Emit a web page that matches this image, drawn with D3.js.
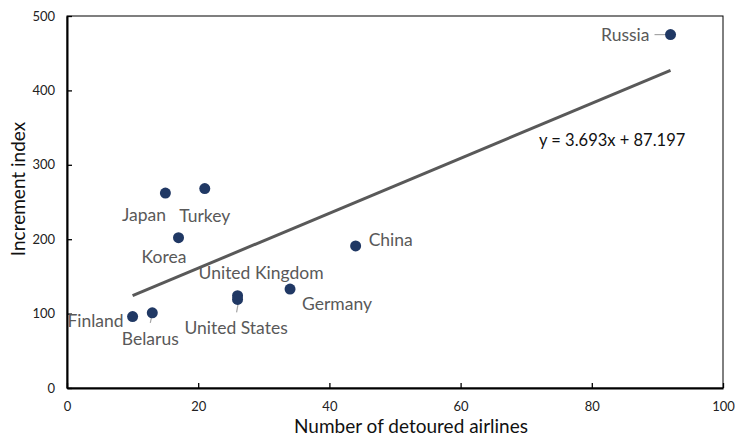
<!DOCTYPE html>
<html><head><meta charset="utf-8">
<script src="https://cdn.jsdelivr.net/npm/d3@7"></script>
<style>body{margin:0;background:#fff}</style>
</head><body><svg id="c" width="735" height="437"></svg>
<script>
const countries = ["Finland","Belarus","Japan","Turkey","Korea","United Kingdom","United States","Germany","China","Russia"];
const detoured = [10,13,15,21,17,26,26,34,44,92];
const increment = [96,101,262,268,202,124,119,133,191,475];
const xTicks = [0,20,40,60,80,100];
const yTicks = [0,100,200,300,400,500];
const slope = 3.693, intercept = 87.197;
const equation = "y = 3.693x + 87.197";

const FONT = "Lato, 'Open Sans', sans-serif";
const svg = d3.select("#c");
const L=67,R=723,T=16,B=388;
const x = d3.scaleLinear().domain([0,100]).range([L,R]);
const y = d3.scaleLinear().domain([0,500]).range([B,T]);

// frame
svg.append("rect").attr("x",L).attr("y",T).attr("width",R-L).attr("height",B-T)
  .attr("fill","none").attr("stroke","#000").attr("stroke-width",1);

const xa = svg.append("g").attr("transform",`translate(0,${B})`)
  .call(d3.axisBottom(x).tickValues(xTicks).tickSizeInner(-5).tickSizeOuter(0).tickPadding(14));
const ya = svg.append("g").attr("transform",`translate(${L},0)`)
  .call(d3.axisLeft(y).tickValues(yTicks).tickSizeInner(-5).tickSizeOuter(0).tickPadding(12));
[xa,ya].forEach(a=>{
  a.select(".domain").attr("stroke","#000").attr("stroke-width",2);
  a.selectAll(".tick line").attr("stroke","#000").attr("stroke-width",1.3);
  a.selectAll("text").attr("font-size",13).attr("fill","#222").attr("font-family",FONT);
});

svg.append("text").attr("x",411).attr("y",433).attr("text-anchor","middle")
  .attr("font-size",19).attr("fill","#111").attr("font-family",FONT).text("Number of detoured airlines");
svg.append("text").attr("transform","translate(25,189) rotate(-90)").attr("text-anchor","middle")
  .attr("font-size",19).attr("fill","#111").attr("font-family",FONT).text("Increment index");

// trendline
const xmin=d3.min(detoured), xmax=d3.max(detoured);
svg.append("line").attr("x1",x(xmin)).attr("y1",y(slope*xmin+intercept))
  .attr("x2",x(xmax)).attr("y2",y(slope*xmax+intercept))
  .attr("stroke","#595959").attr("stroke-width",3);

// label offsets (dx,dy in px relative to point, anchor)
const labelPos = {
  "Finland":[-9,4,"end"],
  "Belarus":[-2,26,"middle"],
  "Japan":[-21.5,21,"middle"],
  "Turkey":[0,27,"middle"],
  "Korea":[-14.5,19,"middle"],
  "United Kingdom":[23.5,-23,"middle"],
  "United States":[-1.5,28,"middle"],
  "Germany":[47,14,"middle"],
  "China":[13,-6,"start"],
  "Russia":[-21,0,"end"]
};
const data = countries.map((c,i)=>({c,x:detoured[i],y:increment[i]}));

// leader lines
const leaders = {"Belarus":[[-2,10],[0,1]],"United States":[[-1,13],[1,2]],"Russia":[[-16,0],[-4,0]]};
data.forEach(d=>{
  if(leaders[d.c]){
    const [a,b]=leaders[d.c];
    svg.append("line").attr("x1",x(d.x)+a[0]).attr("y1",y(d.y)+a[1])
      .attr("x2",x(d.x)+b[0]).attr("y2",y(d.y)+b[1]).attr("stroke","#a6a6a6").attr("stroke-width",1.2);
  }
});

svg.selectAll("circle.pt").data(data).join("circle").attr("class","pt")
  .attr("cx",d=>x(d.x)).attr("cy",d=>y(d.y)).attr("r",5.5).attr("fill","#203864");

svg.selectAll("text.lab").data(data).join("text").attr("class","lab")
  .attr("x",d=>x(d.x)+labelPos[d.c][0]).attr("y",d=>y(d.y)+labelPos[d.c][1])
  .attr("text-anchor",d=>labelPos[d.c][2]).attr("dominant-baseline","central")
  .attr("font-size",17.5).attr("fill","#595959").attr("font-family",FONT)
  .text(d=>d.c);

svg.append("text").attr("x",539).attr("y",140).attr("dominant-baseline","central")
  .attr("font-size",16.5).attr("fill","#111")
  .attr("font-family",FONT).text(equation);
</script></body></html>
